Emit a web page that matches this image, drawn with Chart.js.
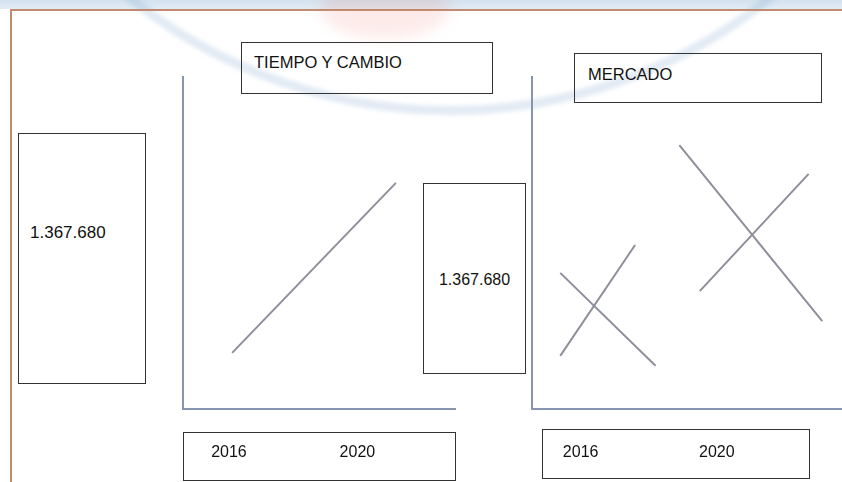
<!DOCTYPE html>
<html>
<head>
<meta charset="utf-8">
<script src="https://cdn.jsdelivr.net/npm/chart.js@4.4.1/dist/chart.umd.min.js"></script>
<style>
    body { margin: 0; width: 842px; height: 482px; overflow: hidden; background: #fff; position: relative; font-family: "Liberation Sans", Arial, sans-serif; }
    .band { position: absolute; left: 0; top: 0; width: 842px; height: 9px; background: linear-gradient(#d3e2ef, #e2ecf5); }
    .frame { position: absolute; left: 10px; top: 9px; width: 840px; height: 480px; border-top: 2px solid #c28b70; border-left: 2px solid #c28b70; }
    .arc { position: absolute; left: -65px; top: -915px; width: 1030px; height: 1030px; border-radius: 50%; border: 9px solid rgba(140, 170, 210, 0.25); box-sizing: border-box; filter: blur(2px); }
    .logo { position: absolute; left: 320px; top: -22px; width: 130px; height: 60px; border-radius: 50%; background: rgba(235, 120, 110, 0.15); filter: blur(7px); }
    .box { position: absolute; border: 1.5px solid #333; box-sizing: border-box; color: #111; }
    .chart { position: absolute; }
</style>
</head>
<body>
<div class="band"></div>
<div class="arc"></div>
<div class="logo"></div>
<div class="frame"></div>

<div class="box" id="tiempo-title" style="left:241px; top:42px; width:252px; height:52px; padding:10px 0 0 12px; font-size:16.5px;"></div>
<div class="box" id="mercado-title" style="left:574px; top:53px; width:248px; height:50px; padding:11px 0 0 13px; font-size:16.5px;"></div>
<div class="box" id="left-value" style="left:18px; top:133px; width:128px; height:251px; padding:89px 0 0 11px; font-size:17px;"></div>
<div class="box" id="mid-value" style="left:423px; top:183px; width:103px; height:191px; padding:87px 0 0 0; font-size:16px; text-align:center;"></div>
<div class="box" style="left:183px; top:432px; width:273px; height:49px;"></div>
<div class="box" style="left:542px; top:429px; width:268px; height:50px;"></div>

<div class="chart" style="left:170px; top:60px; width:300px; height:425px;"><canvas id="tiempo-chart"></canvas></div>
<div class="chart" style="left:515px; top:60px; width:327px; height:425px;"><canvas id="mercado-chart"></canvas></div>

<script>
const years = [2016, 2020];
const tiempoTitle = 'TIEMPO Y CAMBIO';
const mercadoTitle = 'MERCADO';
const valueLabel = '1.367.680';

// TIEMPO Y CAMBIO: one rising line
const tiempoX = [2016.1, 2021.2];
const tiempoY = [16.9, 68.1];

// MERCADO: two crosses, four segments
const mercadoX1 = [2015.4, 2018.2];
const mercadoY1 = [41.0, 13.0];
const mercadoX2 = [2015.4, 2017.6];
const mercadoY2 = [16.0, 49.4];
const mercadoX3 = [2018.9, 2023.1];
const mercadoY3 = [79.5, 26.5];
const mercadoX4 = [2019.5, 2022.7];
const mercadoY4 = [35.5, 70.8];

document.getElementById('tiempo-title').textContent = tiempoTitle;
document.getElementById('mercado-title').textContent = mercadoTitle;
document.getElementById('left-value').textContent = valueLabel;
document.getElementById('mid-value').textContent = valueLabel;

const lineColor = '#8d8f9a';
const axisColor = '#8795ae';

function toPoints(xs, ys) {
    return xs.map((x, i) => ({ x: x, y: ys[i] }));
}

function segment(xs, ys) {
    return {
        data: toPoints(xs, ys),
        showLine: true,
        borderColor: lineColor,
        borderWidth: 2,
        pointRadius: 0,
        fill: false
    };
}

function renderPanel(canvasId, datasets, xMin, xMax, padding) {
    const ctx = document.getElementById(canvasId).getContext('2d');
    return new Chart(ctx, {
        type: 'scatter',
        data: { datasets: datasets },
        options: {
            responsive: true,
            maintainAspectRatio: false,
            animation: false,
            layout: { padding: padding },
            plugins: {
                legend: { display: false },
                tooltip: { enabled: false }
            },
            scales: {
                x: {
                    type: 'linear',
                    min: xMin,
                    max: xMax,
                    grid: { display: false, drawTicks: false },
                    border: { display: true, color: axisColor, width: 2 },
                    afterBuildTicks: (scale) => {
                        scale.ticks = years.map(v => ({ value: v }));
                    },
                    afterFit: (scale) => { scale.height = 76; },
                    ticks: {
                        padding: 34,
                        color: '#111',
                        font: { family: '"Liberation Sans", Arial, sans-serif', size: 16 },
                        callback: (v) => String(v),
                        maxRotation: 0
                    }
                },
                y: {
                    min: 0,
                    max: 100,
                    grid: { display: false, drawTicks: false },
                    border: { display: true, color: axisColor, width: 2 },
                    ticks: { display: false },
                    afterFit: (scale) => { scale.width = 0; }
                }
            }
        }
    });
}

renderPanel('tiempo-chart', [segment(tiempoX, tiempoY)], 2014.57, 2023.04,
    { left: 13, top: 17, right: 15, bottom: 0 });

renderPanel('mercado-chart', [
    segment(mercadoX1, mercadoY1),
    segment(mercadoX2, mercadoY2),
    segment(mercadoX3, mercadoY3),
    segment(mercadoX4, mercadoY4)
], 2014.57, 2023.68, { left: 17, top: 17, right: 0, bottom: 0 });
</script>
</body>
</html>
